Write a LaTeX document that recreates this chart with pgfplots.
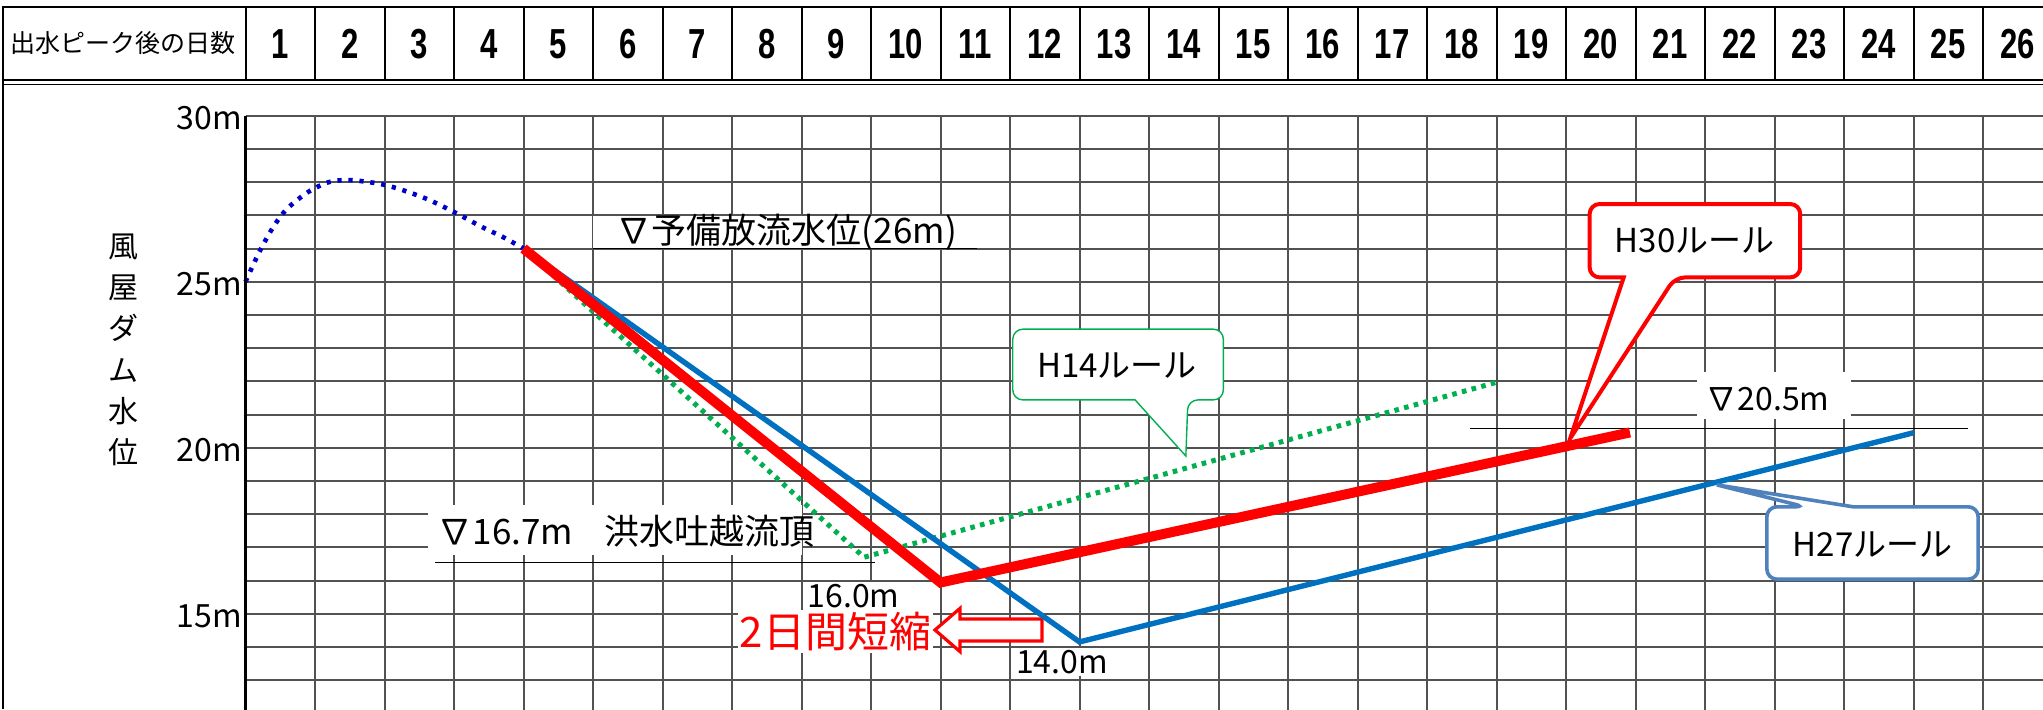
\documentclass[border=0pt]{standalone}
\usepackage{fontspec}
\usepackage{pgfplots}
\pgfplotsset{compat=1.18}
\setmainfont{Noto Sans CJK JP}
\newfontfamily\hdrfont[FakeStretch=0.74]{Liberation Sans}
\definecolor{h30}{HTML}{FF0000}
\definecolor{h27}{HTML}{0070C0}
\definecolor{h14}{HTML}{00B050}
\definecolor{pre}{HTML}{0000CC}
\definecolor{h27box}{HTML}{4F81BD}
\newcommand{\fs}[1]{\fontsize{#1}{#1}\selectfont}

\begin{document}
\begin{tikzpicture}
\fill[white] (0,0) rectangle (1021.5pt,354.5pt);
% header row
\draw[line width=1.1pt] (1.5pt,0) -- (1.5pt,350.85pt) -- (1021.5pt,350.85pt);
\draw[line width=1pt] (1.5pt,314.5pt) -- (1021.5pt,314.5pt);
\draw[line width=0.7pt] (1.5pt,312.35pt) -- (1021.5pt,312.35pt);
\foreach \k in {0,...,25}
  \draw[line width=1pt] ({122.75pt+\k*34.75pt},314.5pt) -- ({122.75pt+\k*34.75pt},350.85pt);
\node[font=\fs{12.5}] at (61.5pt,332.85pt) {出水ピーク後の日数};
\foreach \k in {1,...,26}
  \node[font=\hdrfont\bfseries\fs{21}] at ({122.75pt+(\k-0.5)*34.75pt},332.6pt) {\k};
% y label
\node[font={\fontsize{15}{20.66}\selectfont}, align=center] at (61.5pt,179.5pt) {風\\屋\\ダ\\ム\\水\\位};

\begin{axis}[
  at={(122.75pt,-35.35pt)}, anchor=south west,
  scale only axis, width=903.5pt, height=332pt,
  xmin=0, xmax=26, ymin=10, ymax=30,
  xtick={0,...,26}, xticklabel=\empty,
  ytick={15,20,25,30}, yticklabels={15m,20m,25m,30m},
  minor ytick={10,...,30},
  xmajorgrids, ymajorgrids, yminorgrids,
  grid style={black!68, line width=1pt},
  minor grid style={black!68, line width=1pt},
  major tick length=0pt, minor tick length=0pt,
  axis line style={draw=none},
  yticklabel style={font=\fs{16}, inner sep=0pt, xshift=-1.5pt, yshift=-1.2pt},
  clip=false,
]
% white label boxes
\fill[white] (axis cs:5.0,26.03) rectangle (axis cs:10.52,26.97);
\fill[white] (axis cs:2.63,16.77) rectangle (axis cs:8.0,18.27);
\fill[white] (axis cs:20.89,20.86) rectangle (axis cs:23.1,22.29);
\node[font=\fs{17.5}] at (axis cs:7.79,26.5) {∇予備放流水位(26m)};
\node[font=\fs{17.5}, anchor=west, inner sep=0pt] at (axis cs:2.76,17.47) {∇16.7m\hspace{0.9em}洪水吐越流頂};
\node[font=\fs{16}] at (axis cs:21.9,21.46) {∇20.5m};
\draw[line width=0.9pt] (axis cs:5.0,26) -- (axis cs:10.52,26);
\draw[line width=0.85pt] (axis cs:2.73,16.54) -- (axis cs:9.06,16.54);
\draw[line width=0.55pt] (axis cs:17.62,20.58) -- (axis cs:24.78,20.58);
\node[font=\fs{16}, fill=white, inner sep=1pt] at (axis cs:8.75,15.53) {16.0m};
\node[font=\fs{16}, fill=white, inner sep=1pt] at (axis cs:11.75,13.55) {14.0m};
\node[font=\fs{21}, text=h30, fill=white, inner sep=1pt] at (axis cs:8.49,14.46) {2日間短縮};
% arrow
\draw[h30, line width=1.6pt, fill=white, line join=miter]
  (axis cs:9.92,14.51) -- (axis cs:10.28,15.16) -- (axis cs:10.28,14.84)
  -- (axis cs:11.46,14.84) -- (axis cs:11.46,14.18) -- (axis cs:10.28,14.18)
  -- (axis cs:10.28,13.86) -- cycle;
% 実績（出水ピーク前後）
\addplot[pre, smooth, line width=2.3pt, dash pattern=on 2.1pt off 3.4pt] coordinates {
  (0,25) (0.2,25.9) (0.4,26.65) (0.6,27.2) (0.9,27.7) (1.2,28.0) (1.5,28.06)
  (1.9,27.96) (2.2,27.8) (2.6,27.5) (3.0,27.1) (3.4,26.65) (3.7,26.35) (4,26)};
% H14ルール
\addplot[h14, line width=2.5pt, dash pattern=on 2.3pt off 2.7pt] coordinates {
  (4,26) (8.9,16.7) (18,21.97)};
% H27ルール
\addplot[h27, line width=2.7pt] coordinates {
  (4,26) (12,14.15) (24,20.45)};
% H30ルール
\addplot[h30, line width=5pt] coordinates {
  (4,26) (10,15.94) (19.92,20.46)};
% callouts
\draw[h14, line width=0.7pt, fill=white, rounded corners=5pt]
  (axis cs:11.04,23.57) -- (axis cs:14.07,23.57) -- (axis cs:14.07,21.44)
  -- (axis cs:13.56,21.44) [sharp corners] -- (axis cs:13.53,19.75) -- (axis cs:12.8,21.44)
  [rounded corners=5pt] -- (axis cs:11.04,21.44) -- cycle;
\node[font=\fs{16.5}] at (axis cs:12.54,22.47) {H14ルール};
\draw[h30, line width=2pt, fill=white, rounded corners=5pt]
  (axis cs:19.34,27.34) -- (axis cs:22.37,27.34) -- (axis cs:22.37,25.13)
  -- (axis cs:20.57,25.13) [sharp corners] -- (axis cs:19.06,20.28) -- (axis cs:19.83,25.13)
  [rounded corners=5pt] -- (axis cs:19.34,25.13) -- cycle;
\node[font=\fs{16.5}] at (axis cs:20.85,26.24) {H30ルール};
\draw[h27box, line width=1.8pt, fill=white, rounded corners=5pt]
  (axis cs:21.89,16.04) -- (axis cs:21.89,18.22) -- (axis cs:22.44,18.22)
  [sharp corners] -- (axis cs:21.17,18.88) -- (axis cs:23.13,18.22)
  [rounded corners=5pt] -- (axis cs:24.93,18.22) -- (axis cs:24.93,16.04) -- cycle;
\node[font=\fs{16.5}] at (axis cs:23.41,17.08) {H27ルール};
% left axis line
\draw[line width=1.1pt] (axis cs:0,30) -- (axis cs:0,10);
\end{axis}
\pgfresetboundingbox
\path[use as bounding box] (0,0) rectangle (1021.5pt,354.5pt);
\end{tikzpicture}
\end{document}
